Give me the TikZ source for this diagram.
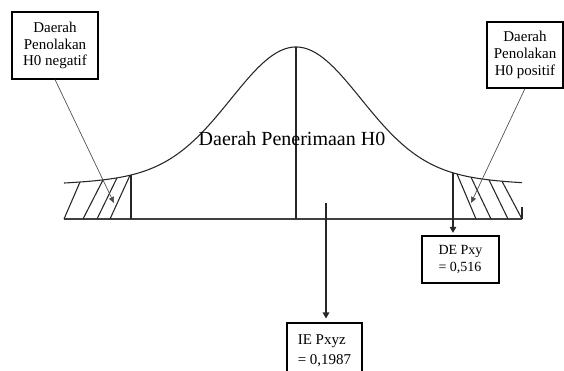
\documentclass[tikz,border=0pt]{standalone}
\usepackage{fontspec}
\setmainfont{Liberation Serif}
\usetikzlibrary{arrows.meta}
\begin{document}
\begin{tikzpicture}[x=0.75pt,y=-0.75pt,
  declare function={bell(\t)=219-(32+125*exp(-0.5*((\t-296)/64)*((\t-296)/64))+15*exp(-0.5*((\t-296)/140)*((\t-296)/140)));},
  curve/.style={line width=0.8pt, black!85},
  axis/.style={line width=1.2pt, black!75},
  box/.style={draw, line width=0.8pt, align=center, inner sep=0pt, font=\fontsize{11.25}{12.5}\selectfont},
  lead/.style={line width=0.5pt, black!70, -{Triangle[length=4.5pt,width=4pt]}},
  down/.style={line width=0.8pt, black!85, -{Triangle[length=4.5pt,width=5pt]}},
]
\useasboundingbox (0,0) rectangle (564,371);
\clip (0,0) rectangle (564,371);

% boxes
\node[box, minimum width=64.5pt, minimum height=50.25pt] (neg) at (55,45.5) {Daerah\\Penolakan\\H0 negatif};
\node[box, minimum width=57pt, minimum height=49.5pt] (pos) at (525,55) {Daerah\\Penolakan\\H0 positif};
\node[box, font=\fontsize{10.5}{12.5}\selectfont, align=left, minimum width=57.75pt, minimum height=35.25pt] (de) at (460.5,259.5) {DE Pxy\\= 0,516};
\node[box, font=\fontsize{11.25}{15}\selectfont, align=left, minimum width=56.25pt, minimum height=41.25pt] (ie) at (324.5,350.5) {IE Pxyz\\= 0,1987};

% curve
\draw[curve] plot[domain=64:522, samples=150, smooth] (\x,{bell(\x)});

% axis and verticals
\coordinate (bl) at (64,219);
\coordinate (br) at (522,219);
\draw[axis] (bl) -- (br);
\coordinate (peak) at (296,{bell(296)});
\coordinate (mid) at (296,219);
\draw[curve] (peak) -- (mid);
\coordinate (lc) at (131,{bell(131)});
\coordinate (lcb) at (131,219);
\draw[curve] (lc) -- (lcb);
\coordinate (rc) at (453,{bell(453)});
\draw[down, shorten >=2pt] (rc) -- (rc |- de.north);
\coordinate (re1) at (522,207);
\draw[curve] (re1) -- (br);

% hatching
\foreach \b/\t in {64/80, 83/103, 97/117, 110/130}
  \draw[curve] (\b,219) -- (\t,{bell(\t)});
\foreach \t/\b in {457/476, 471/491, 489/508, 502/522}
  \draw[curve] (\t,{bell(\t)}) -- (\b,219);

% label
\node[font=\fontsize{15}{18}\selectfont, anchor=base, inner sep=0pt] (acc) at (292,145) {Daerah Penerimaan H0};

% leaders
\coordinate (negtip) at (114,203);
\coordinate (postip) at (471,203);
\draw[lead] (neg.south) -- (negtip);
\draw[lead] (pos.south) -- (postip);
\coordinate (ies) at (326,203);
\draw[down, shorten >=3pt] (ies) -- (ies |- ie.north);
\end{tikzpicture}
\end{document}
